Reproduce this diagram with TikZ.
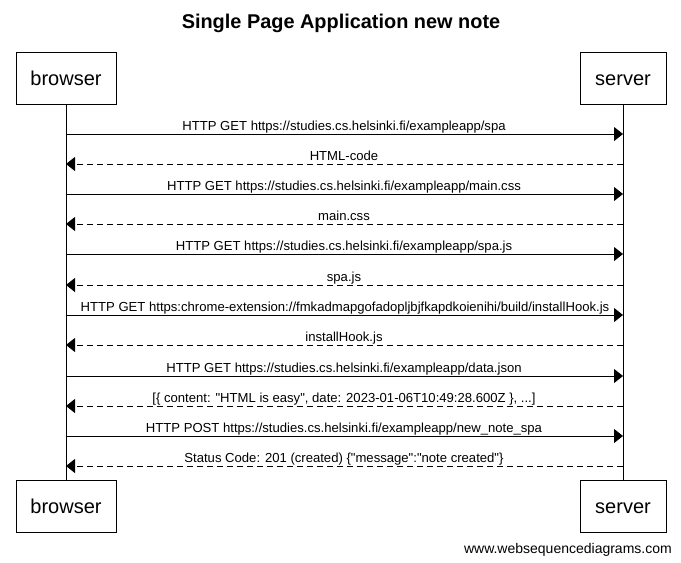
\documentclass[tikz,border=0pt]{standalone}
\usepackage{fontspec}
\setmainfont{Liberation Sans}
\usetikzlibrary{arrows.meta}
\begin{document}
\begin{tikzpicture}[x=1pt,y=-1pt,
  actor/.style={draw,line width=0.8pt,minimum width=100pt,minimum height=52pt,inner sep=0pt,text height=15pt,text depth=0pt,font=\fontsize{20}{24}\selectfont},
  req/.style={draw,line width=0.8pt,-{Triangle[length=9pt,width=14pt]}},
  resp/.style={req,dash pattern=on 6pt off 4pt},
  msg/.style={font=\fontsize{13.1}{15}\selectfont,anchor=base,inner sep=0pt},
  life/.style={draw,line width=0.8pt}]
\useasboundingbox (0,0) rectangle (681,563);
\node[font=\bfseries\fontsize{19.9}{24}\selectfont] (title) at (341,23) {Single Page Application new note};
\node[actor] (bt) at (66,78) {browser};
\node[actor,minimum width=86pt] (st) at (623,78) {server};
\node[actor] (bb) at (66,506) {browser};
\node[actor,minimum width=86pt] (sb) at (623,506) {server};
\draw[life] (bt.south) -- (bb.north);
\draw[life] (st.south) -- (sb.north);
\foreach \i/\y in {1/134,2/164,3/194,4/224,5/254,6/285,7/315,8/345,9/376,10/406,11/436,12/466}{
  \coordinate (b\i) at (66,\y);
  \coordinate (s\i) at (623,\y);
}
\draw[req] (b1) -- (s1);
\draw[resp] (s2) -- (b2);
\draw[req] (b3) -- (s3);
\draw[resp] (s4) -- (b4);
\draw[req] (b5) -- (s5);
\draw[resp] (s6) -- (b6);
\draw[req] (b7) -- (s7);
\draw[resp] (s8) -- (b8);
\draw[req] (b9) -- (s9);
\draw[resp] (s10) -- (b10);
\draw[req] (b11) -- (s11);
\draw[resp] (s12) -- (b12);
\node[msg] (m1) at (344,130) {HTTP GET https://studies.cs.helsinki.fi/exampleapp/spa};
\node[msg] (m2) at (344,160) {HTML-code};
\node[msg] (m3) at (344,190) {HTTP GET https://studies.cs.helsinki.fi/exampleapp/main.css};
\node[msg] (m4) at (344,220) {main.css};
\node[msg] (m5) at (344,250) {HTTP GET https://studies.cs.helsinki.fi/exampleapp/spa.js};
\node[msg] (m6) at (344,281) {spa.js};
\node[msg] (m7) at (345,311) {HTTP GET https:chrome-extension://fmkadmapgofadopljbjfkapdkoienihi/build/installHook.js};
\node[msg] (m8) at (344,341) {installHook.js};
\node[msg] (m9) at (344,372) {HTTP GET https://studies.cs.helsinki.fi/exampleapp/data.json};
\node[msg] (m10) at (344,402) {[\{ content: \textquotedbl HTML is easy\textquotedbl, date: 2023-01-06T10:49:28.600Z \}, ...]};
\node[msg] (m11) at (344,432) {HTTP POST https://studies.cs.helsinki.fi/exampleapp/new\_note\_spa};
\node[msg] (m12) at (344,462) {Status Code: 201 (created) \{\textquotedbl message\textquotedbl:\textquotedbl note created\textquotedbl\}};
\node[font=\fontsize{14}{16}\selectfont,anchor=base east,inner sep=0pt] (footer) at (672,553) {www.websequencediagrams.com};
\end{tikzpicture}
\end{document}
